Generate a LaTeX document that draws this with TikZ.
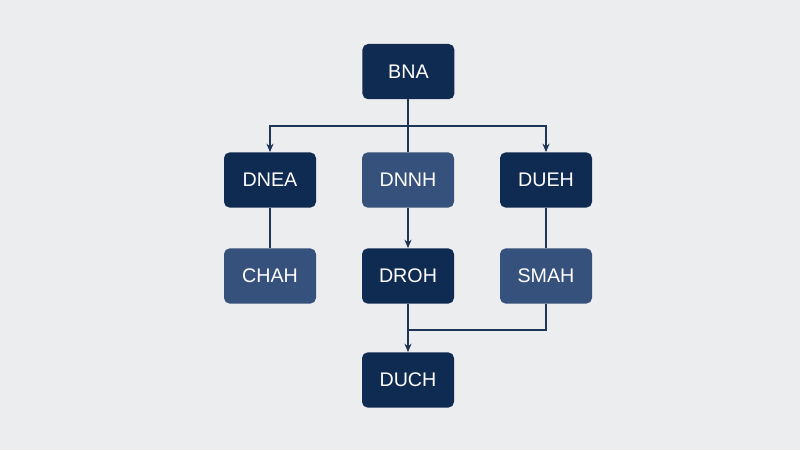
\documentclass[tikz,border=0pt]{standalone}
\usepackage{fontspec}
\setmainfont{Liberation Sans}
\usetikzlibrary{arrows.meta}
\definecolor{navy}{HTML}{102B52}
\definecolor{slate}{HTML}{36527C}
\definecolor{wall}{HTML}{ECEDEE}
\definecolor{wire}{HTML}{1E3558}

\begin{document}
\begin{tikzpicture}[font=\fontsize{14}{16}\selectfont]

        % Background and fixed frame
        \fill[wall] (0, 0) rectangle (20, 11.25);
        \useasboundingbox (0, 0) rectangle (20, 11.25);

        % Setup the styles for the boxes
        \tikzset{box style/.style={rectangle,
                                   rounded corners=4pt,
                                   minimum width=2.3cm,
                                   minimum height=1.38cm,
                                   text=white,
                                   fill=navy},
                 light box/.style={box style, fill=slate},
                 link/.style={draw=wire, line width=0.9pt},
                 arrow/.style={link, -{Stealth[length=6pt, width=5pt]}}}

        % Draw the boxes
        \node[box style] at (10.21, 9.46)  (BNA)  {BNA};
        \node[box style] at (6.75, 6.75)   (DNEA) {DNEA};
        \node[light box] at (10.2, 6.75)   (DNNH) {DNNH};
        \node[box style] at (13.65, 6.75)  (DUEH) {DUEH};
        \node[light box] at (6.75, 4.35)   (CHAH) {CHAH};
        \node[box style] at (10.2, 4.35)   (DROH) {DROH};
        \node[light box] at (13.65, 4.35)  (SMAH) {SMAH};
        \node[box style] at (10.2, 1.75)   (DUCH) {DUCH};

        % Junction points
        \coordinate (split) at (10.2, 8.1);
        \coordinate (merge) at (10.2, 3.0);

        % Connect the boxes
        \draw[link] (BNA.south -| split) -- (DNNH.north);
        \draw[arrow] (split) -| (DNEA.north);
        \draw[arrow] (split) -| (DUEH.north);
        \draw[link] (DNEA) -- (CHAH);
        \draw[arrow] (DNNH) -- (DROH);
        \draw[link] (DUEH) -- (SMAH);
        \draw[arrow] (DROH) -- (DUCH);
        \draw[link] (SMAH.south) |- (merge);
    \end{tikzpicture}
\end{document}
